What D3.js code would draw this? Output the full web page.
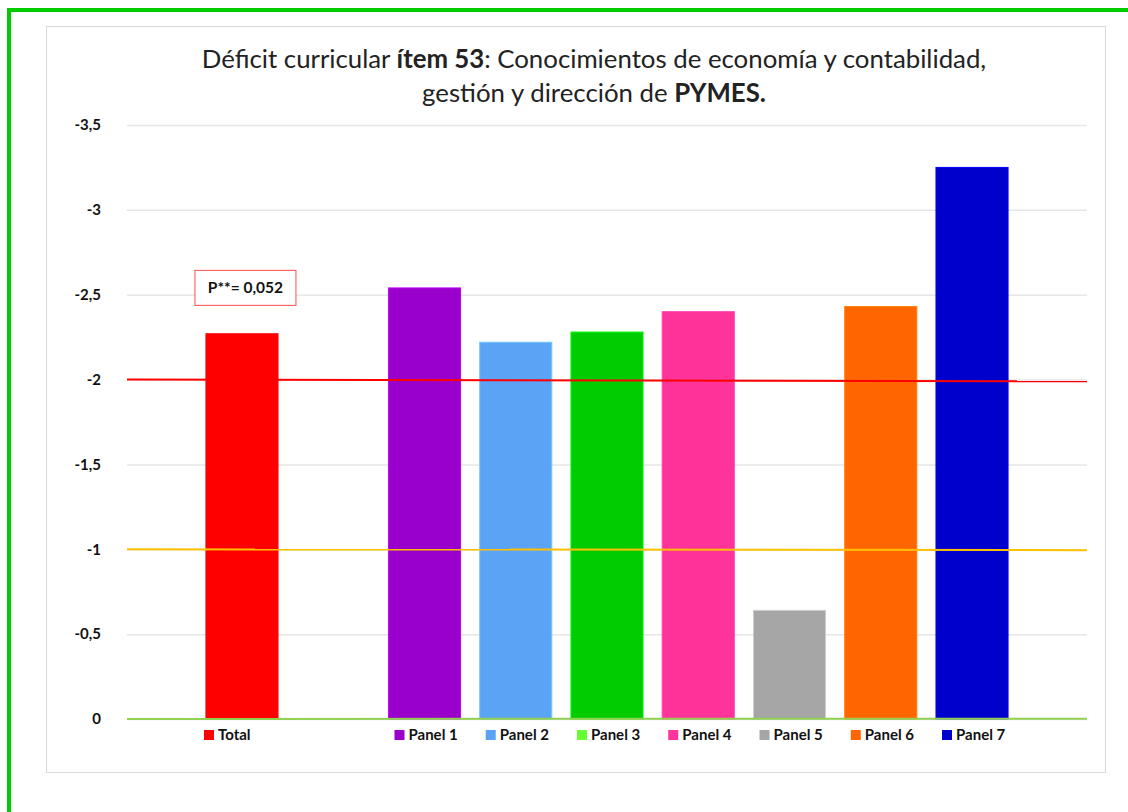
<!DOCTYPE html>
<html>
<head>
<meta charset="utf-8">
<script src="https://cdn.jsdelivr.net/npm/d3@7"></script>
<style>
  body { margin: 0; background: #fff; }
  svg { font-family: Lato, "Open Sans", sans-serif; }
</style>
</head>
<body>
<div id="chart"></div>
<script>
const width = 1128, height = 812;

// data
const categories = ["Total", "Panel 1", "Panel 2", "Panel 3", "Panel 4", "Panel 5", "Panel 6", "Panel 7"];
const values = [-2.27, -2.54, -2.22, -2.28, -2.40, -0.64, -2.43, -3.25];
const colors = ["#ff0000", "#9900cc", "#5ba3f5", "#00cc00", "#ff3399", "#a6a6a6", "#ff6600", "#0000cc"];
const legendColors = ["#ff0000", "#9900cc", "#5ba3f5", "#66ff33", "#ff3399", "#a6a6a6", "#ff6600", "#0000cc"];
const yTicks = [0, -0.5, -1, -1.5, -2, -2.5, -3, -3.5];
const refLines = [
  { name: "alto", values: [-2.0, -1.99], color: "#ff0000" },
  { name: "medio", values: [-1.0, -0.995], color: "#ffc000" },
  { name: "cero", values: [0, -0.002], color: "#92d050" }
];
const pLabel = "P**= 0,052";

const margin = { top: 125, right: 41, bottom: 93, left: 127 };
const innerW = width - margin.left - margin.right,
      innerH = height - margin.top - margin.bottom;

const svg = d3.select("#chart").append("svg")
    .attr("width", width)
    .attr("height", height);

// outer green frame (top + left) and chart area border
svg.append("line").attr("x1", 7).attr("x2", width).attr("y1", 10).attr("y2", 10)
    .attr("stroke", "#00cc00").attr("stroke-width", 4);
svg.append("line").attr("x1", 9).attr("x2", 9).attr("y1", 8).attr("y2", height)
    .attr("stroke", "#00cc00").attr("stroke-width", 4);
svg.append("rect").attr("x", 46.5).attr("y", 26.5).attr("width", 1059).attr("height", 746)
    .attr("fill", "#fff").attr("stroke", "#d9d9d9");

// title
const title = svg.append("text").attr("text-anchor", "middle").attr("font-size", 25.8).attr("fill", "#222");
const t1 = title.append("tspan").attr("x", 594).attr("y", 68);
t1.append("tspan").text("Déficit curricular ");
t1.append("tspan").attr("font-weight", "bold").text("ítem 53");
t1.append("tspan").text(": Conocimientos de economía y contabilidad,");
const t2 = title.append("tspan").attr("x", 594).attr("y", 102);
t2.append("tspan").text("gestión y dirección de ");
t2.append("tspan").attr("font-weight", "bold").text("PYMES.");

const g = svg.append("g").attr("transform", "translate(" + margin.left + "," + margin.top + ")");

// slots: Total, empty gap, then the panels
const slots = [categories[0], "_gap"].concat(categories.slice(1));
const x = d3.scaleBand().domain(slots).range([0, innerW]).paddingInner(0.21).paddingOuter(0.865);
const y = d3.scaleLinear().domain([0, -3.5]).range([innerH, 0]);

// grid
g.append("g")
    .call(d3.axisLeft(y).tickValues(yTicks).tickSize(-innerW).tickFormat(d => String(d).replace(".", ",")))
    .call(a => a.select(".domain").remove())
    .call(a => a.selectAll(".tick line").attr("stroke", "#e6e6e6").attr("stroke-width", 1.5))
    .call(a => a.selectAll(".tick text").attr("x", -26).attr("font-size", 15).attr("font-weight", "bold").attr("fill", "#111")
        .attr("font-family", "Lato, sans-serif"));

// bars
g.selectAll(".bar")
    .data(categories)
    .enter().append("rect")
    .attr("class", "bar")
    .attr("x", d => x(d))
    .attr("width", x.bandwidth())
    .attr("y", (d, i) => y(values[i]))
    .attr("height", (d, i) => y(0) - y(values[i]))
    .attr("fill", (d, i) => colors[i])
    .attr("stroke", (d, i) => d3.color(colors[i]).brighter(0.6))
    .attr("stroke-width", 1);

// reference lines
const lx = d3.scaleLinear().domain([0, 1]).range([0, innerW]);
const line = d3.line().x((d, i) => lx(i)).y(d => y(d));
g.selectAll(".ref")
    .data(refLines)
    .enter().append("path")
    .attr("class", "ref")
    .attr("d", d => line(d.values))
    .attr("fill", "none")
    .attr("stroke", d => d.color)
    .attr("stroke-width", 2);

// p-value box
const pb = g.append("g").attr("transform", "translate(" + (x("Total") - 11) + "," + (y(-2.62) - 4) + ")");
pb.append("rect").attr("width", 101).attr("height", 35).attr("fill", "#fff").attr("stroke", "#ff4d4d").attr("stroke-width", 1);
pb.append("text").attr("x", 50.5).attr("y", 23).attr("text-anchor", "middle")
    .attr("font-size", 15.5).attr("font-weight", "bold").attr("fill", "#111").text(pLabel);

// legend
const legend = g.selectAll(".legend")
    .data(categories)
    .enter().append("g")
    .attr("class", "legend")
    .attr("transform", d => "translate(" + (x(d) + x.bandwidth() / 2 - (d === "Total" ? 38 : 30)) + "," + (innerH + 11) + ")");
legend.append("rect").attr("width", 10).attr("height", 10).attr("fill", (d, i) => legendColors[i]);
legend.append("text").attr("x", 14).attr("y", 10).attr("font-size", 15).attr("font-weight", "bold")
    .attr("fill", "#111").text(d => d);
</script>
</body>
</html>
